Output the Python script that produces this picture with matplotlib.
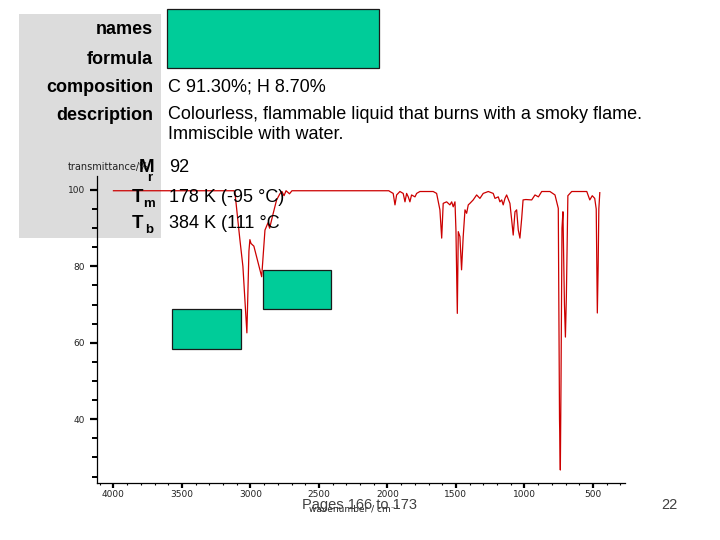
import matplotlib
matplotlib.use("Agg")
import matplotlib.pyplot as plt
from matplotlib.patches import Rectangle
from matplotlib.ticker import MultipleLocator

# ---------------- data ----------------
wavenumber = [4000, 3120, 3113, 3077, 3055, 3026, 3011, 3004, 2996, 2975, 2918, 2894, 2872,
              2860, 2833, 2809, 2785, 2770, 2755, 2740, 2715, 2697, 1990, 1982, 1958, 1945,
              1933, 1909, 1885, 1872, 1860, 1848, 1836, 1824, 1799, 1787, 1763, 1666, 1641,
              1617, 1604, 1593, 1568, 1544, 1531, 1520, 1507, 1500, 1490, 1483, 1471, 1459,
              1447, 1434, 1422, 1410, 1398, 1374, 1349, 1325, 1301, 1264, 1228, 1215, 1191,
              1179, 1166, 1155, 1142, 1130, 1106, 1093, 1082, 1069, 1057, 1045, 1033, 1020,
              1010, 990, 947, 923, 898, 874, 814, 777, 753, 744, 738, 733, 726, 719, 708,
              701, 694, 683, 655, 545, 523, 505, 487, 476, 468, 462, 457, 450]
transmittance = [99.8, 99.8, 99.3, 87.0, 80.0, 62.6, 84.0, 87.0, 86.0, 85.3, 77.3, 89.5, 91.4,
                 90.0, 94.0, 97.4, 99.0, 99.6, 98.5, 99.8, 99.0, 99.8, 99.8, 99.6, 99.1, 96.1,
                 98.7, 99.6, 99.1, 96.9, 99.1, 98.2, 96.9, 98.7, 98.2, 99.1, 99.6, 99.6, 99.1,
                 94.8, 87.4, 96.5, 96.9, 96.1, 96.9, 95.6, 96.9, 89.5, 67.7, 89.1, 87.8, 79.1,
                 87.8, 94.8, 93.9, 96.1, 96.5, 97.4, 98.7, 97.8, 99.1, 99.6, 99.1, 97.8, 98.2,
                 96.9, 97.4, 96.1, 97.8, 98.7, 96.5, 92.1, 88.2, 94.3, 94.8, 89.5, 87.4, 92.6,
                 97.4, 97.5, 97.4, 98.7, 98.2, 99.6, 99.6, 98.7, 95.2, 40.0, 26.7, 50.0, 90.0,
                 94.3, 70.0, 61.5, 72.0, 98.5, 99.6, 99.6, 97.4, 98.5, 97.8, 95.0, 67.8, 80.0,
                 95.0, 99.3]

x_major_ticks = [4000, 3500, 3000, 2500, 2000, 1500, 1000, 500]
y_major_ticks = [40, 60, 80, 100]

info_labels = ["names", "formula", "composition", "description"]
info_values = ["", "", "C 91.30%; H 8.70%",
               "Colourless, flammable liquid that burns with a smoky flame.\nImmiscible with water."]
prop_symbols = [("M", "r"), ("T", "m"), ("T", "b")]
prop_values = ["92", "178 K (-95 °C)", "384 K (111 °C"]

# ---------------- figure ----------------
W, H = 720, 540
fig = plt.figure(figsize=(7.2, 5.4), dpi=100)
fig.patch.set_facecolor("white")


def fx(x):
    return x / W


def fy(y):
    return 1 - y / H


SANS = ["Liberation Sans", "DejaVu Sans"]

# grey info panel
fig.add_artist(Rectangle((fx(19), fy(238)), (161 - 19) / W, (238 - 14) / H,
                         transform=fig.transFigure, facecolor="#dcdcdc",
                         edgecolor="none", zorder=-1))

# spectrum axes
ax = fig.add_axes([fx(97), fy(483), (625 - 97) / W, (483 - 176) / H])
ax.patch.set_alpha(0)
ax.plot(wavenumber, transmittance, color="#cc0000", lw=0.9, zorder=2)
ax.set_xlim(4120, 266)
ax.set_ylim(23.3, 103.66)
for s in ["top", "right"]:
    ax.spines[s].set_visible(False)
for s in ["left", "bottom"]:
    ax.spines[s].set_linewidth(0.9)
ax.set_xticks(x_major_ticks)
ax.set_yticks(y_major_ticks)
ax.xaxis.set_minor_locator(MultipleLocator(100))
ax.yaxis.set_minor_locator(MultipleLocator(5))
ax.tick_params(axis="x", which="major", length=3.8, width=1.6, pad=1.5,
               labelsize=6.5, labelcolor="#222222")
ax.tick_params(axis="x", which="minor", length=1.6, width=0.8)
ax.tick_params(axis="y", which="major", length=5.2, width=1.6, pad=3.5,
               labelsize=6.5, labelcolor="#222222")
ax.tick_params(axis="y", which="minor", length=3.3, width=1.4)
for lab in ax.get_xticklabels() + ax.get_yticklabels():
    lab.set_family("DejaVu Sans")

fig.text(fx(68), fy(167), "transmittance/%", fontsize=7, family="DejaVu Sans",
         ha="left", va="center", color="#222222", zorder=1)
fig.text(fx(354), fy(509), "wavenumber / cm⁻¹", fontsize=6.5, family="DejaVu Sans",
         ha="center", va="center", color="#222222", zorder=1)

# info labels / values
label_y = [30, 59, 88, 115]
for lab, val, y in zip(info_labels, info_values, label_y):
    fig.text(fx(153), fy(y), lab, fontsize=13, fontweight="bold", family=SANS,
             ha="right", va="center", color="black", zorder=3)
    if val:
        fig.text(fx(168), fy(y - 9), val, fontsize=13, family=SANS, ha="left",
                 va="top", color="black", linespacing=1.22, zorder=3)

prop_y = [167, 197, 224]
sub_pos = [(147, 178), (143.5, 204), (145, 230)]
main_right = [154, 143.5, 143.5]
for (sym, sub), val, y, (sx, sy), mr in zip(prop_symbols, prop_values, prop_y, sub_pos, main_right):
    fig.text(fx(mr), fy(y), sym, fontsize=13.5, fontweight="bold", family=SANS,
             ha="right", va="center", color="black", zorder=3)
    fig.text(fx(sx), fy(sy), sub, fontsize=9.5, fontweight="bold", family=SANS,
             ha="left", va="center", color="black", zorder=3)
    fig.text(fx(169), fy(y), val, fontsize=13, family=SANS, ha="left",
             va="center", color="black", zorder=3)

# footer
fig.text(fx(360), fy(505), "Pages 166 to 173", fontsize=10.5, family=SANS,
         ha="center", va="center", color="#404040", zorder=3)
fig.text(fx(669), fy(505), "22", fontsize=10.5, family=SANS,
         ha="center", va="center", color="#404040", zorder=3)

# green cover boxes
boxes = [(167, 9, 379, 68), (172, 309, 241, 349), (263, 270, 331, 309)]
for x0, y0, x1, y1 in boxes:
    fig.add_artist(Rectangle((fx(x0), fy(y1)), (x1 - x0) / W, (y1 - y0) / H,
                             transform=fig.transFigure, facecolor="#00cc99",
                             edgecolor="#1a1a1a", lw=0.9, zorder=5))

fig.savefig("out.png", dpi=100)
